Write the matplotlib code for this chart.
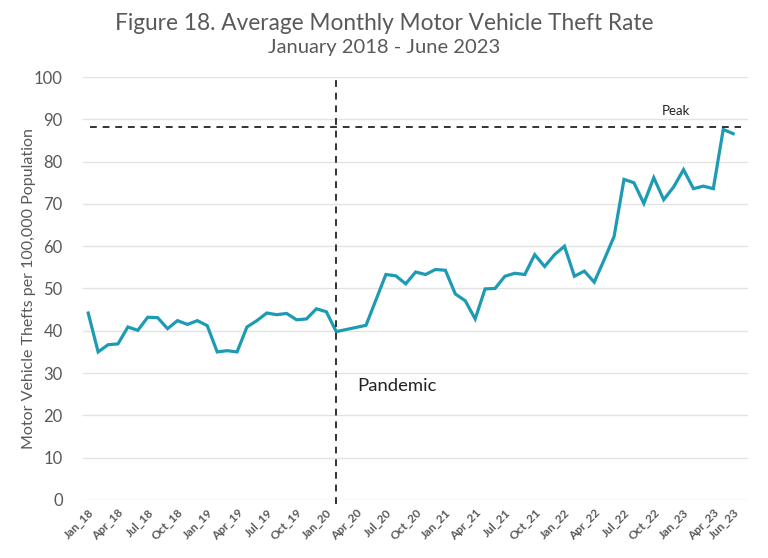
import matplotlib
matplotlib.use("Agg")
import matplotlib.pyplot as plt

plt.rcParams['font.family'] = ['Lato', 'DejaVu Sans']

# Monthly values Jan 2018 - Jun 2023
months = ["Jan_18","Feb_18","Mar_18","Apr_18","May_18","Jun_18","Jul_18","Aug_18","Sep_18","Oct_18","Nov_18","Dec_18",
          "Jan_19","Feb_19","Mar_19","Apr_19","May_19","Jun_19","Jul_19","Aug_19","Sep_19","Oct_19","Nov_19","Dec_19",
          "Jan_20","Feb_20","Mar_20","Apr_20","May_20","Jun_20","Jul_20","Aug_20","Sep_20","Oct_20","Nov_20","Dec_20",
          "Jan_21","Feb_21","Mar_21","Apr_21","May_21","Jun_21","Jul_21","Aug_21","Sep_21","Oct_21","Nov_21","Dec_21",
          "Jan_22","Feb_22","Mar_22","Apr_22","May_22","Jun_22","Jul_22","Aug_22","Sep_22","Oct_22","Nov_22","Dec_22",
          "Jan_23","Feb_23","Mar_23","Apr_23","May_23","Jun_23"]
rates = [44.2, 35.0, 36.7, 36.9, 40.9, 40.1, 43.2, 43.1, 40.5, 42.4, 41.5, 42.4,
         41.2, 35.0, 35.3, 35.0, 40.9, 42.4, 44.2, 43.8, 44.1, 42.6, 42.8, 45.2,
         44.5, 39.8, 40.3, 40.8, 41.3, 47.3, 53.3, 53.0, 51.1, 53.9, 53.3, 54.5,
         54.3, 48.7, 47.1, 42.8, 49.9, 50.0, 52.9, 53.6, 53.3, 58.0, 55.2, 58.0,
         60.0, 52.9, 54.1, 51.5, 56.8, 62.3, 75.8, 75.0, 70.1, 76.2, 71.0, 74.0,
         78.1, 73.6, 74.2, 73.6, 87.6, 86.6]
tick_labels = ["Jan_18","Apr_18","Jul_18","Oct_18","Jan_19","Apr_19","Jul_19","Oct_19",
               "Jan_20","Apr_20","Jul_20","Oct_20","Jan_21","Apr_21","Jul_21","Oct_21",
               "Jan_22","Apr_22","Jul_22","Oct_22","Jan_23","Apr_23","Jun_23"]
pandemic_month = "Feb_20"
peak_value = 88.2

x = list(range(len(months)))
tick_pos = [months.index(t) for t in tick_labels]

fig = plt.figure(figsize=(7.68, 5.58), dpi=100)
ax = fig.add_axes([0.108, 0.104, 0.866, 0.758])

ax.plot(x, rates, color='#1E9BB4', linewidth=2.3, solid_joinstyle='miter', zorder=3)

ax.set_xlim(-0.53, 66.5)
ax.set_ylim(0, 100)
ax.set_yticks(range(0, 101, 10))
ax.grid(axis='y', color='#e3e3e3', linewidth=1)
ax.set_axisbelow(True)
for s in ax.spines.values():
    s.set_visible(False)
ax.tick_params(axis='both', length=0)
ax.tick_params(axis='y', labelsize=12, labelcolor='#595959', pad=14.5)

ax.set_xticks(tick_pos)
ax.set_xticklabels(tick_labels, rotation=45, ha='right', rotation_mode='anchor',
                   fontsize=8.5, fontweight='bold', color='#595959')
ax.tick_params(axis='x', pad=5)

ax.set_ylabel("Motor Vehicle Thefts per 100,000 Population", fontsize=11.5,
              color='#595959', labelpad=-1.5)

pi = months.index(pandemic_month)
ax.axvline(pi, ymin=-0.01, ymax=1.0, color='#333333', linestyle=(0, (3.5, 3)),
           linewidth=1.4, zorder=4, clip_on=False)
ax.axhline(peak_value, xmin=0.011, xmax=0.99, color='#333333', linestyle=(0, (3.5, 3)),
           linewidth=1.4, zorder=4)
ax.text(pi + 2.1, 27, "Pandemic", fontsize=13.3, color='#222222', va='center', ha='left')
ax.text(59.2, 92.0, "Peak", fontsize=9.5, color='#222222', va='center', ha='center')

fig.text(0.5, 0.958, "Figure 18. Average Monthly Motor Vehicle Theft Rate",
         ha='center', va='center', fontsize=16.3, color='#595959')
fig.text(0.5, 0.914, "January 2018 - June 2023",
         ha='center', va='center', fontsize=14.5, color='#595959')

fig.savefig("out.png", dpi=100)
